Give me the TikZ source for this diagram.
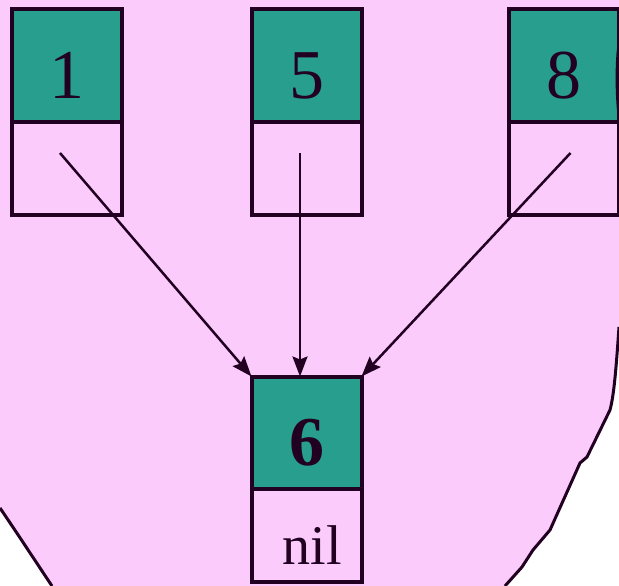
\documentclass[tikz,border=0pt]{standalone}
\usepackage{fontspec}
\setmainfont{Liberation Serif}
\usepackage{tikz}
\usetikzlibrary{positioning,arrows.meta}
\definecolor{blobpink}{RGB}{251,204,251}
\definecolor{keyteal}{RGB}{40,158,142}
\definecolor{inkdark}{RGB}{34,0,34}
\tikzset{
  keycell/.style={draw=inkdark,line width=4pt,fill=keyteal,minimum width=110pt,minimum height=112pt,outer sep=0pt,inner sep=0pt,text height=66pt,text depth=0pt,font=\fontsize{70}{72}\selectfont,text=inkdark},
  ptrcell/.style={draw=inkdark,line width=4pt,fill=blobpink,minimum width=110pt,minimum height=93pt,outer sep=0pt,inner sep=0pt},
  ptrarrow/.style={draw=inkdark,line width=2.5pt,-{Stealth[length=20pt,width=15pt,inset=3pt]}}
}
\begin{document}
\begin{tikzpicture}[x=1pt,y=-1pt]
\useasboundingbox (0,0) rectangle (619,586);
\fill[blobpink] (0,0) -- (619,0) -- (619,327) .. controls (616,370) and (614,395) .. (610,410)
  -- (587,457) -- (580,463) -- (550,530) -- (533,550) -- (522,567) -- (505,586) -- (52,586)
  .. controls (38,565) and (15,530) .. (0,508) -- cycle;
\draw[line width=3pt,inkdark] (619,327) .. controls (616,370) and (614,395) .. (610,410)
  -- (587,457) -- (580,463) -- (550,530) -- (533,550) -- (522,567) -- (505,586);
\draw[line width=3pt,inkdark] (0,508) .. controls (15,530) and (38,565) .. (52,586);
\node[keycell] (k1) at (66.5,65.5) {1};
\node[ptrcell,below=0pt of k1] (p1) {};
\node[keycell] (k5) at (306.5,65.5) {5};
\node[ptrcell,below=0pt of k5] (p5) {};
\node[keycell] (k8) at (563.5,65.5) {8};
\node[ptrcell,below=0pt of k8] (p8) {};
\draw[line width=3pt,inkdark] (619,45) .. controls (616.5,60) and (616.5,95) .. (619,115);
\node[keycell,font=\fontsize{70}{72}\selectfont\bfseries] (k6) at (306.5,432.5) {6};
\node[ptrcell,below=0pt of k6,text height=59pt,text depth=0pt,font=\fontsize{56}{58}\selectfont,text=inkdark] (p6) {\hspace{12pt}nil};
\draw[ptrarrow] ([shift={(-6.5,-15)}]p1.center) -- (k6.north west);
\draw[ptrarrow] ([shift={(-6.5,-15)}]p5.center) -- ([xshift=-6.5pt]k6.north);
\draw[ptrarrow] ([shift={(7,-15)}]p8.center) -- (k6.north east);
\end{tikzpicture}
\end{document}
